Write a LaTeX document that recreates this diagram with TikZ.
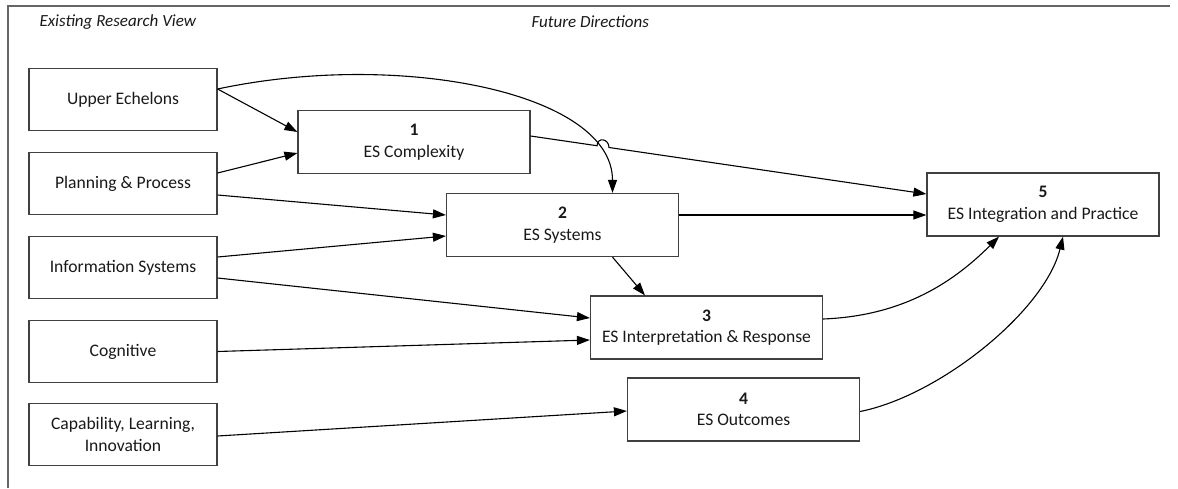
\documentclass[tikz,border=0pt]{standalone}
\usepackage{fontspec}
\setmainfont{Carlito}
\usepackage{tikz}
\usetikzlibrary{calc,arrows.meta}

\begin{document}
\begin{tikzpicture}[x=1pt,y=-1pt,
    every node/.style={font=\fontsize{17.6}{21.5}\selectfont,text=black!90},
    srcbox/.style={draw=black!75,line width=1.2pt,minimum width=188pt,minimum height=62pt,align=center,inner sep=0pt},
    esbox/.style={draw=black!75,line width=1.2pt,minimum width=232pt,minimum height=63pt,align=center,inner sep=0pt},
    link/.style={line width=1.1pt,-{Triangle[length=13pt,width=9pt]}},
    heading/.style={font=\fontsize{17}{21}\selectfont\itshape,anchor=west}]

    \useasboundingbox (0,0) rectangle (1178,488);

    % frame and headings
    \draw[black!60,line width=1.5pt] (8,488) -- (8,6) -- (1170,6);
    \node[heading] (hexist) at (36,22) {Existing Research View};
    \node[heading] (hfuture) at (528,22) {Future Directions};

    % existing research view
    \node[srcbox] (upper) at (123,99.5) {Upper Echelons};
    \node[srcbox] (plan) at (123,183.5) {Planning \& Process};
    \node[srcbox] (info) at (123,267.5) {Information Systems};
    \node[srcbox] (cogn) at (123,351.5) {Cognitive};
    \node[srcbox] (capab) at (123,434.5) {Capability, Learning,\\Innovation};

    % future directions
    \node[esbox] (es1) at (414,142) {\textbf{1}\\ES Complexity};
    \node[esbox] (es2) at (562.5,225) {\textbf{2}\\ES Systems};
    \node[esbox] (es3) at (706.5,327.5) {\textbf{3}\\ES Interpretation \& Response};
    \node[esbox] (es4) at (743.5,409.5) {\textbf{4}\\ES Outcomes};
    \node[esbox] (es5) at (1043,204.5) {\textbf{5}\\ES Integration and Practice};

    % Define the end points that are shared
    \coordinate (ue) at ([yshift=10.5]upper.east);
    \coordinate (c1out) at ([yshift=6]es1.east);
    \coordinate (c5in) at ([yshift=10.5]es5.west);
    \coordinate (hopin) at ($(c1out)!0.168!(c5in)$);
    \coordinate (hopout) at ($(c1out)!0.198!(c5in)$);

    \draw[link] (ue) -- ([yshift=10]es1.west);
    \draw[link] (ue) .. controls +(183,-39) and +(0,-100) .. ([xshift=50]es2.north);
    \draw[link] ([yshift=10.5]plan.east) -- ([yshift=-11]es1.west);
    \draw[link] ([yshift=-11.5]plan.east) -- ([yshift=10]es2.west);
    \draw[link] ([yshift=10.5]info.east) -- ([yshift=-11]es2.west);
    \draw[link] ([yshift=-10.5]info.east) -- ([yshift=9.5]es3.west);
    \draw[link] (cogn.east) -- ([yshift=-12.5]es3.west);
    \draw[link] ([yshift=-1.5]capab.east) -- ([yshift=-1.5]es4.west);

    \draw[link] (c1out) -- (hopin) .. controls +(0,-9) and +(0,-9) .. (hopout) -- (c5in);
    \draw[link] ([yshift=10]es2.east) -- ([yshift=-10.5]es5.west);
    \draw[link] ([xshift=50]es2.south) -- ([xshift=-61.5]es3.north);
    \draw[link] ([yshift=8.5]es3.east) .. controls +(75,-3) and +(-50,50) .. ([xshift=-44]es5.south);
    \draw[link] ([yshift=-2]es4.east) .. controls +(80,-16) and +(-18,74) .. ([xshift=20]es5.south);

\end{tikzpicture}
\end{document}
